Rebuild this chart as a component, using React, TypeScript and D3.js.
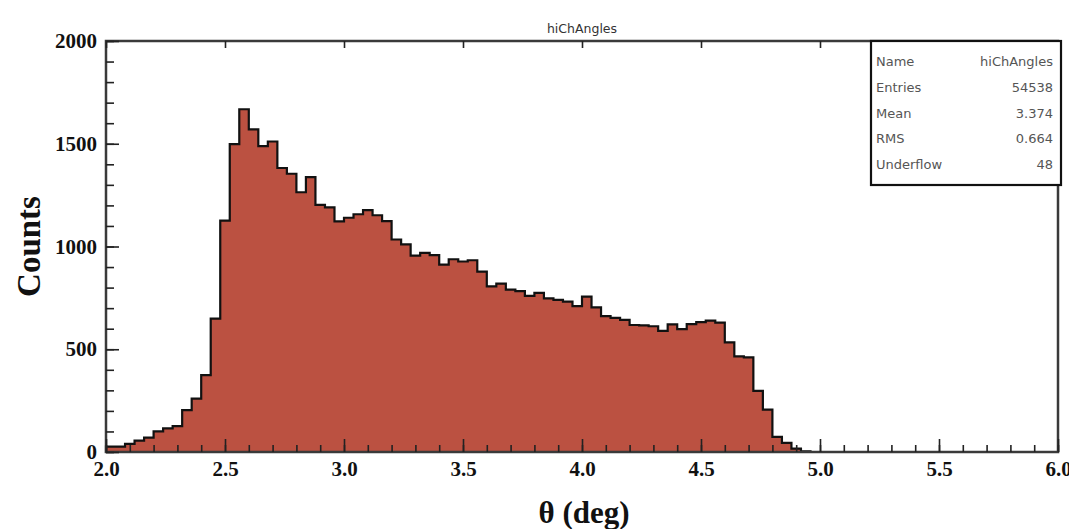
import React, { useEffect, useRef } from "react";
import * as d3 from "d3";

// histogram hiChAngles, 100 bins of 0.04 deg from 2.0 to 6.0 (bins past 4.92 are empty)
const histName = "hiChAngles";
const xMin = 2.0;
const xMax = 6.0;
const binWidth = 0.04;
const yMax = 2000;

const counts = [
  26, 26, 40, 55, 70, 100, 115, 126, 204, 260, 374, 649, 1126, 1498,
  1668, 1570, 1488, 1511, 1382, 1354, 1264, 1338, 1203, 1190, 1122, 1140,
  1157, 1177, 1152, 1123, 1034, 1010, 956, 969, 958, 912, 938, 927, 933,
  878, 806, 819, 790, 783, 760, 774, 748, 740, 732, 710, 756, 704, 661,
  653, 643, 618, 616, 612, 589, 621, 598, 622, 632, 639, 630, 533, 465,
  460, 297, 206, 74, 44, 16, 3,
];

const xTickLabels = ["2.0", "2.5", "3.0", "3.5", "4.0", "4.5", "5.0", "5.5", "6.0"];
const yTickLabels = ["0", "500", "1000", "1500", "2000"];

const statNames = ["Name", "Entries", "Mean", "RMS", "Underflow"];
const statValues = ["hiChAngles", "54538", "3.374", "0.664", "48"];

const xTitle = "θ (deg)";
const yTitle = "Counts";

export default function App() {
  const svgRef = useRef<SVGSVGElement>(null);

  useEffect(() => {
    const svg = d3.select(svgRef.current);
    svg.selectAll("*").remove();

    const left = 106;
    const right = 1058;
    const top = 41;
    const bottom = 452;

    const x = d3.scaleLinear().domain([xMin, xMax]).range([left, right]);
    const y = d3.scaleLinear().domain([0, yMax]).range([bottom, top]);

    // step outline of the histogram
    const pts: [number, number][] = [[xMin, 0]];
    counts.forEach((c, i) => {
      const lo = xMin + i * binWidth;
      pts.push([lo, c], [lo + binWidth, c]);
    });
    pts.push([xMin + counts.length * binWidth, 0]);

    const line = d3
      .line<[number, number]>()
      .x((d) => x(d[0]))
      .y((d) => y(d[1]));

    svg
      .append("path")
      .attr("d", line(pts) + "Z")
      .attr("fill", "#bb5141")
      .attr("stroke", "#111")
      .attr("stroke-width", 2.2)
      .attr("stroke-linejoin", "miter");

    // frame
    svg
      .append("rect")
      .attr("x", left)
      .attr("y", top)
      .attr("width", right - left)
      .attr("height", bottom - top)
      .attr("fill", "none")
      .attr("stroke", "#3a3a3a")
      .attr("stroke-width", 2.5);

    const serif = "'Liberation Serif', 'Times New Roman', serif";

    // y axis: major + minor ticks pointing inward
    const yMinor = svg
      .append("g")
      .attr("transform", `translate(${left},0)`)
      .call(
        d3
          .axisLeft(y)
          .tickValues(d3.range(0, yMax + 1, 100))
          .tickSizeInner(-8)
          .tickSizeOuter(0)
          .tickFormat(() => "")
      );
    yMinor.select(".domain").remove();

    const yMajor = svg
      .append("g")
      .attr("transform", `translate(${left},0)`)
      .call(
        d3
          .axisLeft(y)
          .tickValues(yTickLabels.map(Number))
          .tickSizeInner(-13)
          .tickSizeOuter(0)
          .tickPadding(9)
          .tickFormat((d, i) => yTickLabels[i])
      );
    yMajor.select(".domain").remove();
    yMajor
      .selectAll("text")
      .attr("font-family", serif)
      .attr("font-weight", "bold")
      .attr("font-size", 21)
      .attr("fill", "#111");

    // x axis
    const xMinor = svg
      .append("g")
      .attr("transform", `translate(0,${bottom})`)
      .call(
        d3
          .axisBottom(x)
          .tickValues(d3.range(0, 41).map((i) => xMin + i * 0.1))
          .tickSizeInner(-7)
          .tickSizeOuter(0)
          .tickFormat(() => "")
      );
    xMinor.select(".domain").remove();

    const xMajor = svg
      .append("g")
      .attr("transform", `translate(0,${bottom})`)
      .call(
        d3
          .axisBottom(x)
          .tickValues(xTickLabels.map(Number))
          .tickSizeInner(-13)
          .tickSizeOuter(0)
          .tickPadding(9)
          .tickFormat((d, i) => xTickLabels[i])
      );
    xMajor.select(".domain").remove();
    xMajor
      .selectAll("text")
      .attr("font-family", serif)
      .attr("font-weight", "bold")
      .attr("font-size", 21)
      .attr("fill", "#111");

    // top axis ticks
    const xTop = svg
      .append("g")
      .attr("transform", `translate(0,${top})`)
      .call(
        d3
          .axisTop(x)
          .tickValues(xTickLabels.map(Number))
          .tickSizeInner(-7)
          .tickSizeOuter(0)
          .tickFormat(() => "")
      );
    xTop.select(".domain").remove();

    svg.selectAll(".tick line").attr("stroke", "#222").attr("stroke-width", 1.6);

    // axis titles
    svg
      .append("text")
      .attr("x", (left + right) / 2 + 2)
      .attr("y", 523)
      .attr("text-anchor", "middle")
      .attr("font-family", serif)
      .attr("font-weight", "bold")
      .attr("font-size", 31)
      .attr("fill", "#111")
      .text(xTitle);

    svg
      .append("text")
      .attr("transform", `translate(40,${(top + bottom) / 2}) rotate(-90)`)
      .attr("text-anchor", "middle")
      .attr("font-family", serif)
      .attr("font-weight", "bold")
      .attr("font-size", 33)
      .attr("fill", "#111")
      .text(yTitle);

    // histogram title
    svg
      .append("text")
      .attr("x", 582)
      .attr("y", 33)
      .attr("text-anchor", "middle")
      .attr("font-family", "'DejaVu Sans', sans-serif")
      .attr("font-size", 12.5)
      .attr("fill", "#333")
      .text(histName);

    // stats box
    const bx = 871;
    const bw = 190;
    const by = 41;
    const bh = 144;
    const stats = svg.append("g");
    stats
      .append("rect")
      .attr("x", bx)
      .attr("y", by)
      .attr("width", bw)
      .attr("height", bh)
      .attr("fill", "#fff")
      .attr("stroke", "#111")
      .attr("stroke-width", 2.2);

    const rowY = d3.scaleLinear().domain([0, statNames.length - 1]).range([66, 169]);

    stats
      .selectAll(".sname")
      .data(statNames)
      .join("text")
      .attr("x", bx + 5)
      .attr("y", (d, i) => rowY(i))
      .attr("font-family", "'DejaVu Sans', sans-serif")
      .attr("font-size", 13)
      .attr("fill", "#555")
      .text((d) => d);

    stats
      .selectAll(".sval")
      .data(statValues)
      .join("text")
      .attr("x", bx + bw - 8)
      .attr("y", (d, i) => rowY(i))
      .attr("text-anchor", "end")
      .attr("font-family", "'DejaVu Sans', sans-serif")
      .attr("font-size", 13)
      .attr("fill", "#555")
      .text((d) => d);
  }, []);

  return (
    <div>
      <svg
        ref={svgRef}
        width={1069}
        height={529}
        style={{ position: "absolute", left: 0, top: 0, background: "#fff" }}
      ></svg>
    </div>
  );
}
